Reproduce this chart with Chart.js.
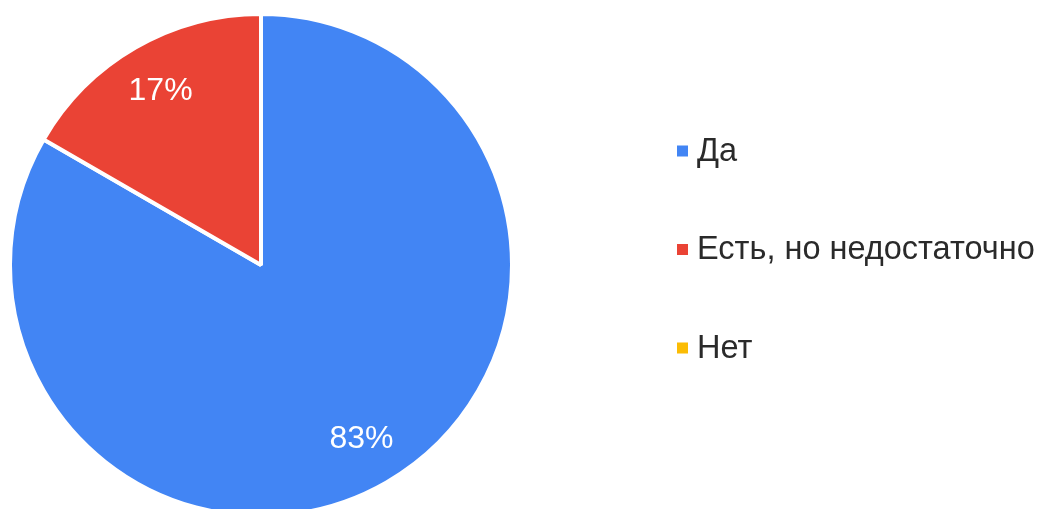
<!DOCTYPE html>
<html>
<head>
<meta charset="utf-8">
<script src="https://cdn.jsdelivr.net/npm/chart.js@4"></script>
<style>
  html, body { margin: 0; padding: 0; background: #fff; overflow: hidden; }
  #wrap { position: relative; width: 1042px; height: 530px; }
</style>
</head>
<body>
<div id="wrap"><canvas id="pieChart"></canvas></div>
<script>
// answers of the survey question
const labels = ["Да", "Есть, но недостаточно", "Нет"];
const answers = [5, 1, 0];
const colors = ["#4285f4", "#ea4335", "#fbbc04"];

// percent labels inside slices
const sliceLabels = {
  id: "sliceLabels",
  afterDatasetsDraw(chart) {
    const ctx = chart.ctx;
    const meta = chart.getDatasetMeta(0);
    const total = answers.reduce((s, v) => s + v, 0);
    ctx.save();
    ctx.fillStyle = "#ffffff";
    ctx.font = "32px 'Liberation Sans', Arial, sans-serif";
    ctx.textAlign = "center";
    ctx.textBaseline = "middle";
    meta.data.forEach((arc, i) => {
      if (!answers[i]) return;
      const p = arc.getProps(["x", "y", "startAngle", "endAngle", "outerRadius"], true);
      const mid = (p.startAngle + p.endAngle) / 2;
      const r = p.outerRadius * 0.8;
      const pct = Math.round(answers[i] / total * 100) + "%";
      ctx.fillText(pct, p.x + Math.cos(mid) * r, p.y + Math.sin(mid) * r);
    });
    ctx.restore();
  }
};

// legend on the right, google style
const sideLegend = {
  id: "sideLegend",
  afterDraw(chart) {
    const ctx = chart.ctx;
    ctx.save();
    ctx.font = "32.5px 'Liberation Sans', Arial, sans-serif";
    ctx.textBaseline = "middle";
    labels.forEach((lab, i) => {
      const y = 151 + i * 98.5;
      ctx.fillStyle = colors[i];
      ctx.fillRect(677, y - 5.5, 11, 11);
      ctx.fillStyle = "#2a2a2a";
      ctx.fillText(lab, 697, y + 1);
    });
    ctx.restore();
  }
};

new Chart("pieChart", {
  type: "pie",
  data: {
    labels: labels,
    datasets: [{
      data: answers,
      backgroundColor: colors,
      borderColor: "#ffffff",
      borderWidth: 4
    }]
  },
  options: {
    responsive: true,
    maintainAspectRatio: false,
    animation: false,
    layout: { padding: { left: 8, top: 12, right: 528, bottom: 12 } },
    plugins: {
      legend: { display: false },
      tooltip: { enabled: false }
    }
  },
  plugins: [sliceLabels, sideLegend]
});
</script>
</body>
</html>
